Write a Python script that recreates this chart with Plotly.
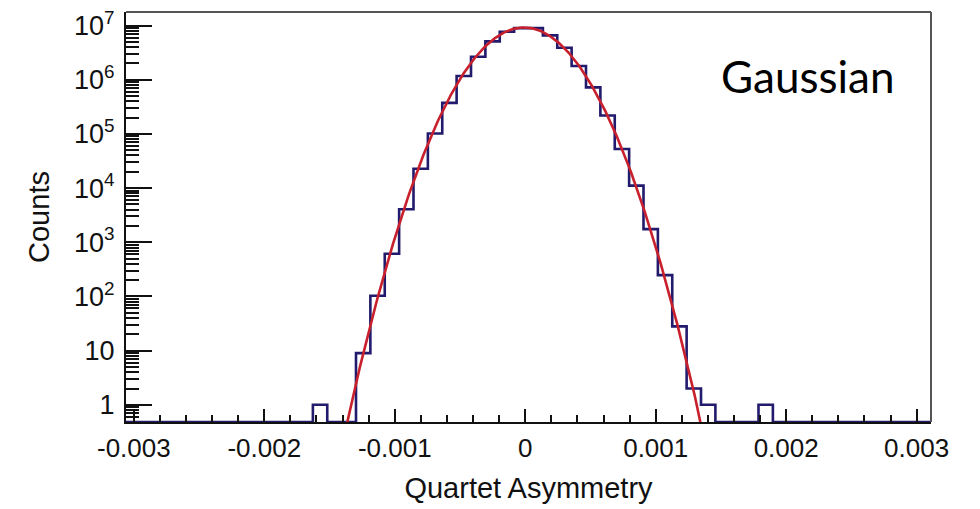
import numpy as np
import plotly.graph_objects as go

# ---- data ----
x_lo = -0.00306          # histogram / axis lower edge
x_hi = 0.00311           # histogram / axis upper edge
n_bins = 56
counts = [0, 0, 0, 0, 0, 0, 0, 0, 0, 0, 0, 0, 0,
          1, 0, 0,
          9, 103, 614, 4060, 22700, 101600, 374000, 1175000, 2650000, 5110000,
          7670000, 8970000, 8970000, 6580000, 3880000, 1790000, 722000, 219000,
          52600, 11100, 1750, 248, 28, 2, 1,
          0, 0, 0, 1,
          0, 0, 0, 0, 0, 0, 0, 0, 0, 0, 0]

# Gaussian fit parameters
fit_amp = 9.2e6
fit_mean = -0.00001
fit_sigma = 0.000234

x_tick_vals = [-0.003, -0.002, -0.001, 0, 0.001, 0.002, 0.003]
x_tick_text = ["-0.003", "-0.002", "-0.001", "0", "0.001", "0.002", "0.003"]

y_tick_vals = [1, 10, 1e2, 1e3, 1e4, 1e5, 1e6, 1e7]
y_tick_text = ["1", "10", "10<sup>2</sup>", "10<sup>3</sup>", "10<sup>4</sup>",
               "10<sup>5</sup>", "10<sup>6</sup>", "10<sup>7</sup>"]

y_log_range = [-0.317, 7.25]

x_title = "Quartet Asymmetry"
y_title = "Counts"
label_text = "Gaussian"

# ---- build figure ----
edges = np.linspace(x_lo, x_hi, n_bins + 1)
floor_val = 10 ** y_log_range[0]
y_plot = [c if c > 0 else floor_val for c in counts]
hx = list(edges)
hy = y_plot + [y_plot[-1]]

fx = np.linspace(x_lo, x_hi, 800)
fy = fit_amp * np.exp(-0.5 * ((fx - fit_mean) / fit_sigma) ** 2)
fy = np.maximum(fy, 1e-3)

fig = go.Figure()
fig.add_trace(go.Scatter(x=hx, y=hy, mode="lines", line=dict(shape="hv", color="#221a6c", width=2.6),
                         showlegend=False, hoverinfo="skip"))
fig.add_trace(go.Scatter(x=fx, y=fy, mode="lines", line=dict(color="#c8202c", width=2.6),
                         showlegend=False, hoverinfo="skip"))

axis_font = dict(family="Liberation Sans, Arial, sans-serif", size=26, color="#111111")
ytick_font = dict(family="Liberation Sans, Arial, sans-serif", size=27, color="#111111")
title_font = dict(family="Liberation Sans, Arial, sans-serif", size=29, color="#111111")

fig.update_layout(
    width=980, height=509,
    margin=dict(l=126, r=49, t=7, b=87),
    paper_bgcolor="white", plot_bgcolor="white",
    showlegend=False,
    xaxis=dict(
        range=[x_lo, x_hi], showgrid=False, zeroline=False,
        tickmode="array", tickvals=x_tick_vals, ticktext=x_tick_text,
        ticks="inside", ticklen=13, tickwidth=1.5, tickcolor="#111",
        minor=dict(dtick=0.0002, tick0=0, ticks="inside", ticklen=7, tickwidth=1.5, tickcolor="#111"),
        showline=True, linecolor="#111", linewidth=2,
        tickfont=axis_font, ticklabelstandoff=2,
        title=dict(text=x_title, font=title_font, standoff=15),
    ),
    yaxis=dict(
        type="log", range=y_log_range, showgrid=False, zeroline=False,
        tickmode="array", tickvals=y_tick_vals, ticktext=y_tick_text,
        ticks="inside", ticklen=26, tickwidth=1.5, tickcolor="#111",
        minor=dict(dtick="D1", ticks="inside", ticklen=13, tickwidth=1.5, tickcolor="#111"),
        showline=True, linecolor="#111", linewidth=2,
        tickfont=ytick_font, ticklabelstandoff=4,
        title=dict(text=y_title, font=title_font, standoff=16),
    ),
    shapes=[
        dict(type="line", xref="paper", yref="paper", x0=0, x1=1, y0=1, y1=1, line=dict(color="#555", width=2)),
        dict(type="line", xref="paper", yref="paper", x0=1, x1=1, y0=0, y1=1, line=dict(color="#555", width=2)),
    ],
    annotations=[
        dict(text=label_text, xref="paper", yref="paper", x=0.847, y=0.844, xanchor="center", yanchor="middle",
             showarrow=False, font=dict(family="Lato, sans-serif", size=44, color="black")),
    ],
)

fig.write_html("out.html")
